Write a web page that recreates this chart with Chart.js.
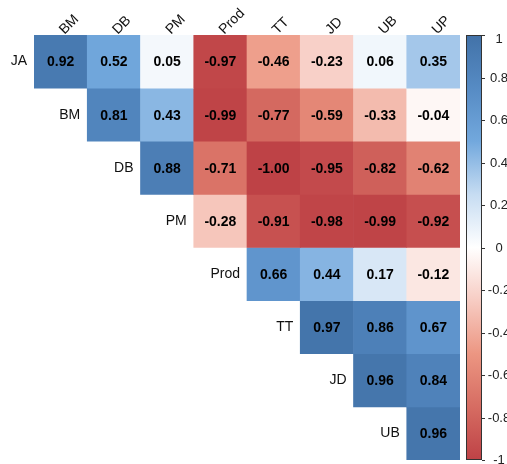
<!DOCTYPE html>
<html>
<head>
<meta charset="utf-8">
<script src="https://cdn.jsdelivr.net/npm/chart.js@4"></script>
<style>
  body { margin: 0; background: #fff; }
  #wrap { width: 507px; height: 464px; }
</style>
</head>
<body>
<div id="wrap"><canvas id="corr"></canvas></div>
<script>
// variables
const rowLabels = ['JA', 'BM', 'DB', 'PM', 'Prod', 'TT', 'JD', 'UB'];
const colLabels = ['BM', 'DB', 'PM', 'Prod', 'TT', 'JD', 'UB', 'UP'];

// correlation values (upper triangle, null = empty cell)
const rowJA   = [0.92, 0.52, 0.05, -0.97, -0.46, -0.23, 0.06, 0.35];
const rowBM   = [null, 0.81, 0.43, -0.99, -0.77, -0.59, -0.33, -0.04];
const rowDB   = [null, null, 0.88, -0.71, -1.00, -0.95, -0.82, -0.62];
const rowPM   = [null, null, null, -0.28, -0.91, -0.98, -0.99, -0.92];
const rowProd = [null, null, null, null, 0.66, 0.44, 0.17, -0.12];
const rowTT   = [null, null, null, null, null, 0.97, 0.86, 0.67];
const rowJD   = [null, null, null, null, null, null, 0.96, 0.84];
const rowUB   = [null, null, null, null, null, null, null, 0.96];
const corr = [rowJA, rowBM, rowDB, rowPM, rowProd, rowTT, rowJD, rowUB];

// colour bar ticks
const cbTicks = [1, 0.8, 0.6, 0.4, 0.2, 0, -0.2, -0.4, -0.6, -0.8, -1];

// colour ramp (value -> rgb)
const rampStops = [
  [-1,    [190, 66, 70]],
  [-0.75, [214, 108, 98]],
  [-0.5,  [236, 150, 130]],
  [-0.25, [247, 204, 195]],
  [0,     [255, 255, 255]],
  [0.25,  [198, 220, 242]],
  [0.5,   [114, 168, 221]],
  [0.75,  [86, 139, 196]],
  [1,     [66, 114, 168]]
];

function corrColor(v) {
  for (let i = 1; i < rampStops.length; i++) {
    if (v <= rampStops[i][0]) {
      const [v0, c0] = rampStops[i - 1];
      const [v1, c1] = rampStops[i];
      const t = (v - v0) / (v1 - v0);
      const c = c0.map((a, k) => Math.round(a + (c1[k] - a) * t));
      return `rgb(${c[0]},${c[1]},${c[2]})`;
    }
  }
  const c = rampStops[rampStops.length - 1][1];
  return `rgb(${c[0]},${c[1]},${c[2]})`;
}

const FONT = "'Liberation Sans', Arial, sans-serif";

// one floating-bar dataset per row; each bar spans [row, row + 1]
const datasets = corr.map((vals, r) => ({
  label: rowLabels[r],
  data: vals.map(v => v === null ? null : [r, r + 1]),
  backgroundColor: vals.map(v => v === null ? 'rgba(0,0,0,0)' : corrColor(v)),
  borderWidth: 0,
  barPercentage: 1,
  categoryPercentage: 1,
  grouped: false
}));

// cell values + row labels
const cellText = {
  id: 'cellText',
  afterDatasetsDraw(chart) {
    const ctx = chart.ctx;
    ctx.save();
    ctx.textBaseline = 'middle';
    corr.forEach((vals, r) => {
      const meta = chart.getDatasetMeta(r);
      vals.forEach((v, j) => {
        if (v === null) return;
        const bar = meta.data[j];
        const cy = (bar.y + bar.base) / 2;
        ctx.font = 'bold 14px ' + FONT;
        ctx.fillStyle = '#000';
        ctx.textAlign = 'center';
        ctx.fillText(v.toFixed(2), bar.x, cy + 1);
        if (j === r) {
          ctx.font = '14px ' + FONT;
          ctx.fillStyle = '#111';
          ctx.textAlign = 'right';
          ctx.fillText(rowLabels[r], bar.x - bar.width / 2 - 7, cy);
        }
      });
    });
    ctx.restore();
  }
};

// colour legend drawn against the hidden 'cb' scale
const colorBar = {
  id: 'colorBar',
  afterDraw(chart) {
    const ctx = chart.ctx;
    const cb = chart.scales.cb;
    const x0 = chart.chartArea.right + 6;
    const w = 16;
    const top = cb.getPixelForValue(1);
    const bottom = cb.getPixelForValue(-1);
    ctx.save();
    const grad = ctx.createLinearGradient(0, bottom, 0, top);
    rampStops.forEach(([v, c]) => {
      grad.addColorStop((v + 1) / 2, `rgb(${c[0]},${c[1]},${c[2]})`);
    });
    ctx.fillStyle = grad;
    ctx.fillRect(x0, top, w, bottom - top);
    ctx.strokeStyle = '#333';
    ctx.lineWidth = 1;
    ctx.strokeRect(x0 + 0.5, top + 0.5, w - 1, bottom - top - 1);
    ctx.font = '13px ' + FONT;
    ctx.fillStyle = '#222';
    ctx.textAlign = 'center';
    ctx.textBaseline = 'middle';
    cbTicks.forEach(t => {
      const y = Math.round(cb.getPixelForValue(t)) + 0.5;
      ctx.beginPath();
      ctx.moveTo(x0 + w, y);
      ctx.lineTo(x0 + w + 3, y);
      ctx.stroke();
      let ly = y;
      if (t === 1) ly += 4;
      ctx.fillText(String(t), x0 + w + 17, ly);
    });
    ctx.restore();
  }
};

new Chart(document.getElementById('corr'), {
  type: 'bar',
  data: { labels: colLabels, datasets: datasets },
  options: {
    responsive: true,
    maintainAspectRatio: false,
    animation: false,
    layout: { padding: { left: 34, right: 47, top: 0, bottom: 4 } },
    plugins: {
      legend: { display: false },
      tooltip: { enabled: false }
    },
    scales: {
      x: {
        position: 'top',
        offset: true,
        grid: { display: false, drawTicks: false },
        border: { display: false },
        ticks: {
          minRotation: 45,
          maxRotation: 45,
          padding: -3,
          labelOffset: 13,
          color: '#111',
          font: { family: FONT, size: 14 }
        },
        afterFit(scale) { scale.height = 35; }
      },
      y: {
        display: false,
        reverse: true,
        min: 0,
        max: rowLabels.length
      },
      cb: {
        display: false,
        position: 'right',
        min: -1,
        max: 1,
        ticks: { stepSize: 0.2 }
      }
    }
  },
  plugins: [cellText, colorBar]
});
</script>
</body>
</html>
